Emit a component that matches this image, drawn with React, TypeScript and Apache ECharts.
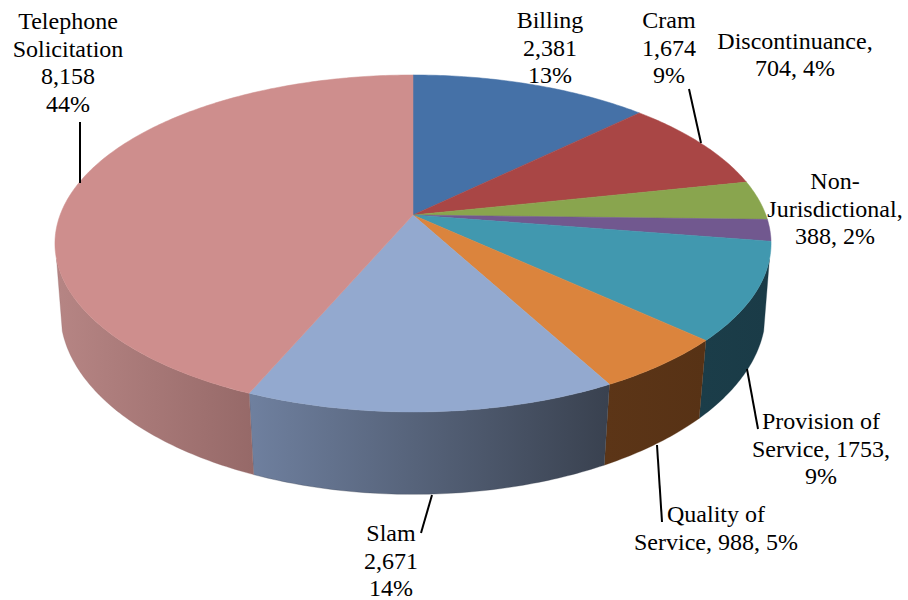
import React, { useEffect, useRef } from "react";
import * as echarts from "echarts";

const categories = ["Billing", "Cram", "Discontinuance", "Non-Jurisdictional", "Provision of Service", "Quality of Service", "Slam", "Telephone Solicitation"];
const values = [2381, 1674, 704, 388, 1753, 988, 2671, 8158];
const labelTexts = [
  "Billing\n2,381\n13%",
  "Cram\n1,674\n9%",
  "Discontinuance,\n704, 4%",
  "Non-\nJurisdictional,\n388, 2%",
  "Provision of\nService, 1753,\n9%",
  "Quality of\nService, 988, 5%",
  "Slam\n2,671\n14%",
  "Telephone\nSolicitation\n8,158\n44%",
];

const topColors = ["#4571A7", "#A94645", "#89A54E", "#71588F", "#4198AF", "#DB843D", "#93A9CF", "#CE8E8D"];
const wallStops: string[][] = [
  ["#2A4465", "#2A4465"],
  ["#662A2A", "#662A2A"],
  ["#526330", "#526330"],
  ["#443556", "#443556"],
  ["#1B3D49", "#1A3B47"],
  ["#5C3517", "#573215"],
  ["#6F809F", "#39414F"],
  ["#B68584", "#966968"],
];

const labelCenters = [
  [550, 48], [669, 48], [795, 55], [835, 209], [821, 449], [716, 528.5], [391, 561], [68, 63],
];
const leaders = [
  [80, 122, 80, 183],
  [689, 89, 701, 143],
  [747, 369, 758, 429],
  [657, 445, 662, 522],
  [432, 495, 421, 533],
];

// Perspective projection of the disc's top and bottom planes
const CX = 413;
const topPlane = { y0: 215, a: 163.7, b: 352.9, k: 0.169 };
const bottomPlane = { y0: 283, a: 178.6, b: 348.5, k: 0.155 };
const WALL_FROM = 105;
const WALL_TO = 255;
const LINE_STEP = 27.8;

const total = values.reduce((s, v) => s + v, 0);
const cumulative: number[] = [0];
values.forEach((v, i) => cumulative.push(cumulative[i] + v));
const toDeg = (c: number) => (c / total) * 360;

function project(plane: typeof topPlane, deg: number): number[] {
  const r = (deg * Math.PI) / 180;
  const u = Math.sin(r);
  const v = Math.cos(r);
  const d = 1 + plane.k * v;
  return [CX + (plane.b * u) / d, plane.y0 - (plane.a * v) / d];
}

function arc(plane: typeof topPlane, from: number, to: number): number[][] {
  const n = Math.max(2, Math.ceil(Math.abs(to - from) / 0.75));
  const pts: number[][] = [];
  for (let i = 0; i <= n; i++) pts.push(project(plane, from + ((to - from) * i) / n));
  return pts;
}

function renderTop(params: any) {
  const i = params.dataIndex;
  const a = toDeg(cumulative[i]);
  const b = toDeg(cumulative[i + 1]);
  const pts = [[CX, topPlane.y0], ...arc(topPlane, a, b)];
  return {
    type: "polygon",
    shape: { points: pts },
    style: { fill: topColors[i], stroke: topColors[i], lineWidth: 0.5 },
  };
}

function renderWall(params: any) {
  const i = params.dataIndex;
  const a = Math.max(toDeg(cumulative[i]), WALL_FROM);
  const b = Math.min(toDeg(cumulative[i + 1]), WALL_TO);
  if (b <= a) return { type: "group", children: [] };
  const topArc = arc(topPlane, a, b);
  const botArc = arc(bottomPlane, a, b).reverse();
  const pts = [...topArc, ...botArc];
  const xs = pts.map((p) => p[0]);
  const x1 = Math.min(...xs);
  const x2 = Math.max(...xs);
  const [c1, c2] = wallStops[i];
  const grad = new echarts.graphic.LinearGradient(x1, 0, x2, 0, [
    { offset: 0, color: c1 },
    { offset: 1, color: c2 },
  ], true);
  return {
    type: "polygon",
    shape: { points: pts },
    style: { fill: grad, stroke: c2, lineWidth: 0.3 },
  };
}

export default function App() {
  const ref = useRef<HTMLDivElement>(null);
  useEffect(() => {
    document.body.style.margin = "0";
    const chart = echarts.init(ref.current!, undefined, { renderer: "svg" });
    const data = categories.map((name, i) => ({ name, value: values[i] }));
    const textLines: any[] = [];
    labelTexts.forEach((block, i) => {
      const lines = block.split("\n");
      lines.forEach((text, j) => {
        textLines.push({
          type: "text",
          z: 6,
          x: labelCenters[i][0],
          y: labelCenters[i][1] - 0.5 + (j - (lines.length - 1) / 2) * LINE_STEP,
          style: {
            text,
            fill: "#000000",
            font: '24px "Liberation Serif"',
            lineHeight: 20,
            textAlign: "center",
            textVerticalAlign: "middle",
          },
        });
      });
    });
    chart.setOption({
      animation: false,
      backgroundColor: "#ffffff",
      series: [
        { type: "custom", coordinateSystem: "none", z: 1, silent: true, renderItem: renderWall, data },
        { type: "custom", coordinateSystem: "none", z: 2, silent: true, renderItem: renderTop, data },
      ],
      graphic: [
        ...leaders.map((l) => ({
          type: "line",
          z: 5,
          shape: { x1: l[0], y1: l[1], x2: l[2], y2: l[3] },
          style: { stroke: "#000000", lineWidth: 2 },
        })),
        ...textLines,
      ],
    });
    return () => chart.dispose();
  }, []);
  return <div ref={ref} style={{ width: 908, height: 600 }} />;
}
